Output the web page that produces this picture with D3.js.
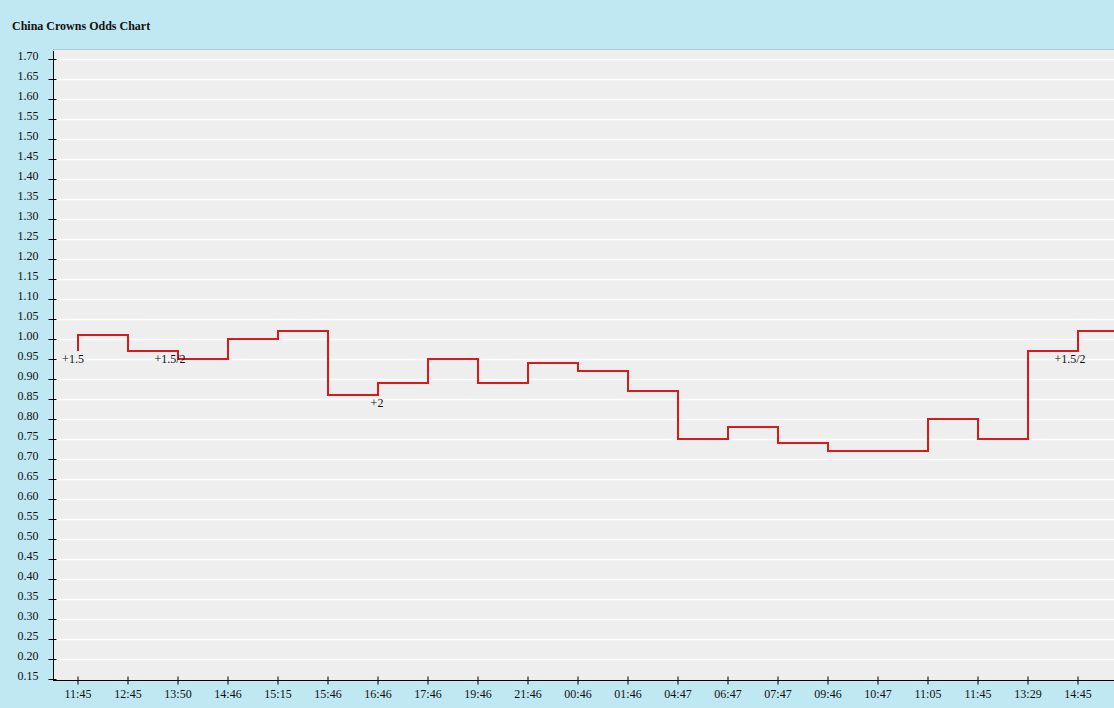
<!DOCTYPE html>
<html><head><meta charset="utf-8">
<script src="https://cdn.jsdelivr.net/npm/d3@7"></script>
<style>
html,body{margin:0;padding:0;background:#c0e8f2;overflow:hidden;}
svg{display:block;}
text{font-family:"Liberation Serif","Times New Roman",serif;}
</style></head><body>
<script>
const title = "China Crowns Odds Chart";
const times = ["11:45","12:45","13:50","14:46","15:15","15:46","16:46","17:46","19:46","21:46","00:46","01:46","04:47","06:47","07:47","09:46","10:47","11:05","11:45","13:29","14:45",""];
const odds = [0.97,1.01,0.97,0.95,1.00,1.02,0.86,0.89,0.95,0.89,0.94,0.92,0.87,0.75,0.78,0.74,0.72,0.72,0.80,0.75,0.97,1.02];
const handicapIdx = [0, 2, 6, 20];
const handicapText = ["+1.5", "+1.5/2", "+2", "+1.5/2"];
const yTicks = d3.range(0.15, 1.7001, 0.05).map(v => +v.toFixed(2));

const W = 1114, H = 708;
const plot = {left: 53, top: 49, right: 1114, bottom: 680};
const svg = d3.select("body").append("svg").attr("width", W).attr("height", H);

svg.append("rect").attr("width", W).attr("height", H).attr("fill", "#c0e8f2");
svg.append("text").attr("x", 12).attr("y", 30).attr("font-size", 12).attr("font-weight", "bold")
  .attr("fill", "#111").text(title);

const x = d3.scaleBand().domain(d3.range(times.length)).range([plot.left, plot.left + 50 * times.length]).padding(0);
const y = d3.scaleLinear().domain([0.15, 1.70]).range([679, 59]);

svg.append("rect").attr("x", plot.left).attr("y", plot.top).attr("width", plot.right - plot.left)
  .attr("height", plot.bottom - plot.top).attr("fill", "#eeeeee");
svg.append("line").attr("x1", plot.left).attr("x2", plot.right).attr("y1", plot.top + 0.5).attr("y2", plot.top + 0.5)
  .attr("stroke", "#b4ccd4");

svg.append("g").selectAll("line").data(yTicks.slice(1)).join("line")
  .attr("x1", plot.left).attr("x2", plot.right)
  .attr("y1", d => Math.round(y(d)) + 0.5).attr("y2", d => Math.round(y(d)) + 0.5)
  .attr("stroke", "#ffffff").attr("stroke-width", 1.5);

const cx = i => x(i) + x.bandwidth() / 2;
const line = d3.line().x((d, i) => cx(i)).y(d => y(d)).curve(d3.curveStepBefore);
const defs = svg.append("defs");
defs.append("clipPath").attr("id", "clip").append("rect")
  .attr("x", plot.left).attr("y", plot.top).attr("width", plot.right - plot.left).attr("height", plot.bottom - plot.top);
svg.append("path").datum(odds).attr("d", line).attr("fill", "none")
  .attr("stroke", "#d91a1a").attr("stroke-width", 2).attr("clip-path", "url(#clip)");

const labelDx = [-5, -8, -1, -8];
svg.append("g").selectAll("text").data(handicapIdx).join("text")
  .attr("x", (i, k) => cx(i) + labelDx[k]).attr("y", i => y(odds[i]) + 12)
  .attr("text-anchor", "middle").attr("font-size", 12).attr("fill", "#111")
  .text((d, k) => handicapText[k]);

// y axis
const yAxis = svg.append("g").attr("transform", `translate(${plot.left + 0.5},0)`)
  .call(d3.axisLeft(y).tickValues(yTicks).tickFormat(d3.format(".2f")).tickSize(5).tickPadding(10));
yAxis.select(".domain").attr("d", `M0,${plot.top + 2}V${plot.bottom}`).attr("stroke", "#000");
yAxis.selectAll(".tick line").attr("x2", -5).attr("x1", 3).attr("stroke", "#000");
yAxis.selectAll(".tick text").attr("font-size", 12).attr("font-family", "Liberation Serif, serif").attr("fill", "#111").attr("x", -15).attr("y", -3);

// x axis
const xAxis = svg.append("g").attr("transform", `translate(0,${plot.bottom + 0.5})`)
  .call(d3.axisBottom(x).tickFormat(i => times[i]).tickSizeOuter(0));
xAxis.select(".domain").attr("d", `M${plot.left},0H${plot.right}`).attr("stroke", "#000");
xAxis.selectAll(".tick line").attr("y1", -4).attr("y2", 4).attr("stroke", "#000");
xAxis.selectAll(".tick text").attr("font-size", 12).attr("font-family", "Liberation Serif, serif").attr("fill", "#111").attr("y", 9).attr("dy", "0.71em");
</script>
</body></html>
